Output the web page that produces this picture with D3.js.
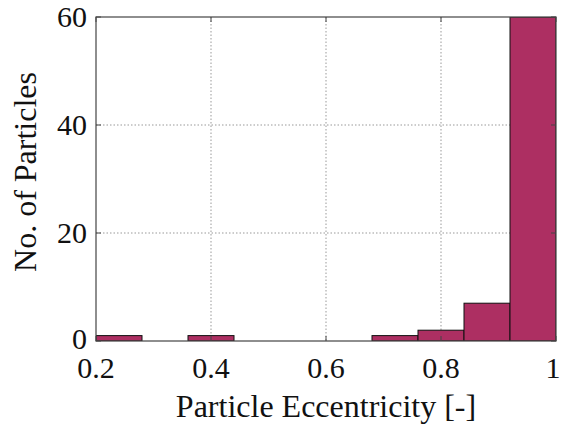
<!DOCTYPE html>
<html lang="en">
<head>
    <meta charset="UTF-8">
    <title>Particle Eccentricity</title>
    <script src="https://d3js.org/d3.v7.min.js"></script>
    <style>
        body { margin: 0; background: white; }
        svg text { font-family: "Liberation Serif", "Times New Roman", Times, serif; fill: #111; }
        .grid line { stroke: #999; stroke-dasharray: 1.5,2; stroke-width: 1; }
    </style>
</head>
<body>
<script>
    const width = 561;
    const height = 426;
    const margin = {top: 17, right: 5, bottom: 85, left: 96};

    // histogram bins (edges) and counts
    const binEdges = [0.2, 0.28, 0.36, 0.44, 0.52, 0.6, 0.68, 0.76, 0.84, 0.92, 1.0];
    const counts = [1, 0, 1, 0, 0, 0, 1, 2, 7, 60];
    const xTicks = [0.2, 0.4, 0.6, 0.8, 1];
    const yTicks = [0, 20, 40, 60];

    const bins = counts.map((c, i) => ({x0: binEdges[i], x1: binEdges[i + 1], count: c}));

    const svg = d3.select("body").append("svg").attr("width", width).attr("height", height);
    const w = width - margin.left - margin.right;
    const h = height - margin.top - margin.bottom;
    const chart = svg.append("g").attr("transform", `translate(${[margin.left, margin.top]})`);

    const x = d3.scaleLinear().domain([0.2, 1]).range([0, w]);
    const y = d3.scaleLinear().domain([0, 60]).range([h, 0]);

    // grid
    const grid = chart.append("g").attr("class", "grid");
    grid.selectAll(".gx").data(xTicks.slice(1, -1)).enter().append("line")
        .attr("x1", d => x(d)).attr("x2", d => x(d)).attr("y1", 0).attr("y2", h);
    grid.selectAll(".gy").data(yTicks.slice(1, -1)).enter().append("line")
        .attr("y1", d => y(d)).attr("y2", d => y(d)).attr("x1", 0).attr("x2", w);

    // bars
    chart.append("defs").append("clipPath").attr("id", "clip")
        .append("rect").attr("width", w).attr("height", h);
    chart.append("g").attr("clip-path", "url(#clip)")
        .selectAll("rect").data(bins.filter(b => b.count > 0)).enter()
        .append("rect")
        .attr("x", d => x(d.x0))
        .attr("width", d => x(d.x1) - x(d.x0))
        .attr("y", d => y(d.count))
        .attr("height", d => h - y(d.count))
        .style("fill", "#ad2f62")
        .style("stroke", "#111")
        .style("stroke-width", 1);

    // box
    chart.append("rect").attr("width", w).attr("height", h)
        .style("fill", "none").style("stroke", "#444").style("stroke-width", 1.2);

    // inward ticks
    const tickLen = 5;
    const tk = chart.append("g").style("stroke", "#444").style("stroke-width", 1);
    xTicks.forEach(t => {
        tk.append("line").attr("x1", x(t)).attr("x2", x(t)).attr("y1", h).attr("y2", h - tickLen);
        tk.append("line").attr("x1", x(t)).attr("x2", x(t)).attr("y1", 0).attr("y2", tickLen);
    });
    yTicks.forEach(t => {
        tk.append("line").attr("x1", 0).attr("x2", tickLen).attr("y1", y(t)).attr("y2", y(t));
        tk.append("line").attr("x1", w).attr("x2", w - tickLen).attr("y1", y(t)).attr("y2", y(t));
    });

    const serif = '"Liberation Serif", "Times New Roman", Times, serif';

    // tick labels
    chart.selectAll(".xl").data(xTicks).enter().append("text")
        .attr("x", d => x(d) - (d === 1 ? 3 : 0)).attr("y", h + 37)
        .attr("text-anchor", "middle")
        .style("font-family", serif)
        .style("font-size", "30px")
        .text(d => d);
    chart.selectAll(".yl").data(yTicks).enter().append("text")
        .attr("x", -9).attr("y", d => y(d) + (d === 0 ? 8 : 10))
        .attr("text-anchor", "end")
        .style("font-family", serif)
        .style("font-size", "30px")
        .text(d => d);

    // axis labels
    chart.append("text")
        .attr("x", w / 2).attr("y", h + 76)
        .attr("text-anchor", "middle")
        .style("font-family", serif)
        .style("font-size", "32px")
        .text("Particle Eccentricity [-]");
    chart.append("text")
        .attr("transform", `translate(${-60},${h / 2 - 7}) rotate(-90)`)
        .attr("text-anchor", "middle")
        .style("font-family", serif)
        .style("font-size", "32px")
        .text("No. of Particles");
</script>
</body>
</html>
